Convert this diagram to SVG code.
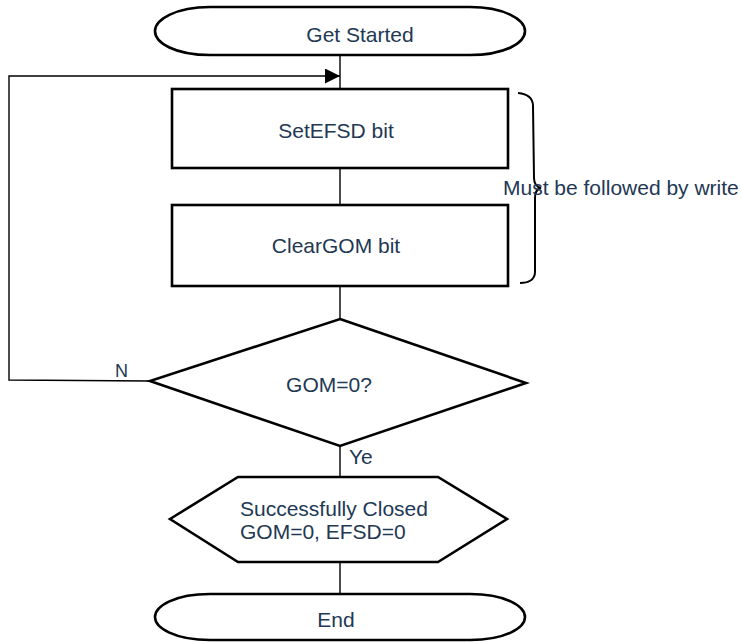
<svg xmlns="http://www.w3.org/2000/svg" width="742" height="642" viewBox="0 0 742 642">
<defs>
<style>
.shape{fill:#fff;stroke:#000;stroke-width:2.6;stroke-linejoin:miter}
.conn{fill:none;stroke:#000;stroke-width:1.4}
.t{font-family:"Liberation Sans",Arial,sans-serif;font-size:21px;fill:#223853}
.c{text-anchor:middle}
</style>
<marker id="arr" markerWidth="16" markerHeight="16" refX="15" refY="7.5" orient="auto" markerUnits="userSpaceOnUse">
<path d="M0,0 L15,7.5 L0,15 Z" fill="#000"/>
</marker>
</defs>
<rect width="742" height="642" fill="#fff"/>
<g id="connectors">
<line class="conn" x1="340" y1="56" x2="340" y2="89"/>
<line class="conn" x1="340" y1="168" x2="340" y2="205"/>
<line class="conn" x1="340" y1="286" x2="340" y2="319"/>
<line class="conn" x1="340" y1="446" x2="340" y2="477"/>
<line class="conn" x1="340" y1="562" x2="340" y2="594"/>
<polyline class="conn" points="150,381 9,380 9,76 340,76" marker-end="url(#arr)"/>
<text class="t" x="115" y="377" style="font-size:18px">N</text>
<text class="t" x="349" y="464">Ye</text>
</g>
<g id="start">
<path class="shape" d="M210,7 L470,7 C505,7 525,20 525,31 C525,43 505,55 470,55 L210,55 C175,55 155,43 155,31 C155,20 175,7 210,7 Z"/>
<text class="t c" x="360" y="42">Get Started</text>
</g>
<g id="setefsd">
<rect class="shape" x="172" y="89" width="336" height="79"/>
<text class="t c" x="336" y="138">SetEFSD bit</text>
</g>
<g id="cleargom">
<rect class="shape" x="172" y="205" width="336" height="81"/>
<text class="t c" x="336" y="253">ClearGOM bit</text>
</g>
<g id="note">
<path d="M518,93 C528,94 533,98 533,106 L534,178 C534,184 537,187 541,188 C537,189 535,192 535,198 L535,272 C535,280 528,283 520,283" fill="none" stroke="#000" stroke-width="2"/>
<text class="t" x="503" y="195">Must be followed by write</text>
</g>
<g id="decision">
<polygon class="shape" points="340,319 526,383 340,446 150,381"/>
<text class="t c" x="329" y="392">GOM=0?</text>
</g>
<g id="closed">
<polygon class="shape" points="170,519 238,477 438,477 507,519 438,562 238,562"/>
<text class="t" x="240" y="516">Successfully Closed</text>
<text class="t" x="240" y="539">GOM=0, EFSD=0</text>
</g>
<g id="end">
<path class="shape" d="M210,594 L470,594 C505,594 525,606 525,617 C525,628 505,640 470,640 L210,640 C175,640 155,628 155,617 C155,606 175,594 210,594 Z"/>
<text class="t c" x="336" y="627">End</text>
</g>
</svg>
